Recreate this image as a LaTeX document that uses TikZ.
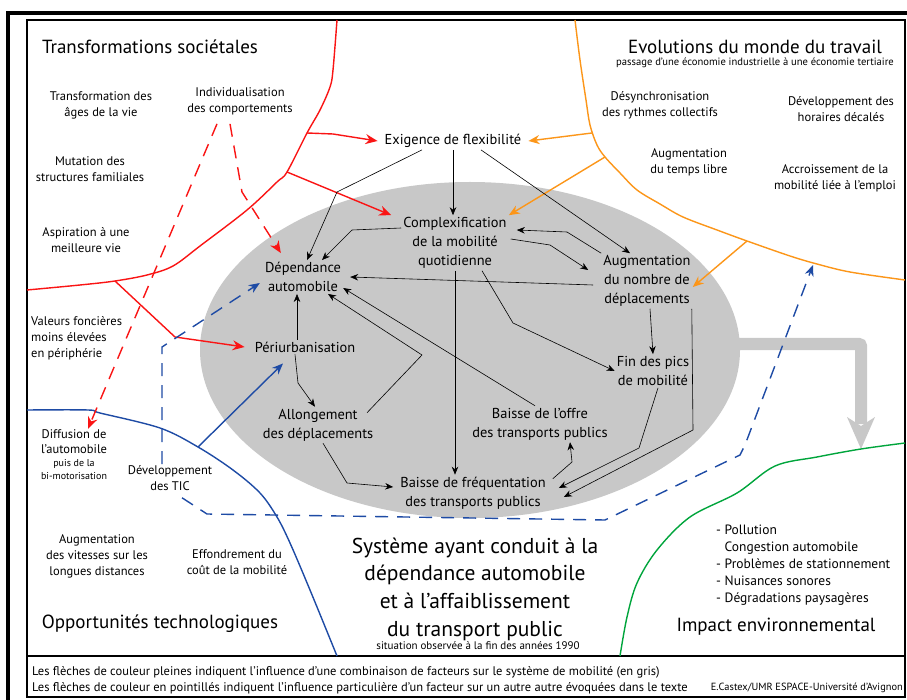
\documentclass[tikz,border=0pt]{standalone}
\usepackage{fontspec}
\setmainfont{PT Sans}
\usetikzlibrary{arrows.meta}

\definecolor{sysgray}{RGB}{200,200,200}
\definecolor{redline}{RGB}{250,20,20}
\definecolor{orangeline}{RGB}{252,150,25}
\definecolor{blueline}{RGB}{30,75,165}
\definecolor{greenline}{RGB}{0,165,60}

\tikzset{
  lbl/.style={align=center, inner sep=1pt, font=\fontsize{12.5}{16}\selectfont},
  sys/.style={align=center, inner sep=2pt, font=\fontsize{14.4}{19}\selectfont},
  area/.style={inner sep=0pt, font=\fontsize{19}{22}\selectfont},
  blk/.style={->, line width=0.6pt, >={Stealth[length=8pt,width=6.5pt]}},
  redarr/.style={->, redline, line width=1.4pt, >={Stealth[length=12pt,width=10pt]}},
  redash/.style={redarr, dash pattern=on 13pt off 9pt},
  orgarr/.style={->, orangeline, line width=1.4pt, >={Stealth[length=11pt,width=9pt]}},
  bluarr/.style={->, blueline, line width=1.4pt, >={Stealth[length=11pt,width=9pt]}},
  bludash/.style={bluarr, dash pattern=on 13pt off 9pt},
  zone/.style={line width=1.4pt, smooth, tension=0.55},
}

\begin{document}
\begin{tikzpicture}[x=1pt, y=-1pt]
\useasboundingbox (0,0) rectangle (907,700);
\fill[white] (0,0) rectangle (907,700);

\fill[sysgray] (470,350) ellipse [x radius=270, y radius=168];
\draw[sysgray, line width=12pt, rounded corners=2pt] (730,344) -- (861,344) -- (861,424);
\fill[sysgray] (847,417) -- (861,426) -- (875,417) -- (861,449) -- cycle;

\draw[line width=4pt] (8,700) -- (8,13) -- (907,13);
\draw[line width=1.4pt] (27,20) rectangle (905,697);
\draw[line width=1.2pt] (27,656) -- (905,656);

\draw[zone, redline] plot coordinates {(337,20) (333,70) (330,87) (320,110) (307,133) (287,172) (277,182) (247,210) (200,246) (173,266) (147,275) (115,281) (80,285) (27,290)};
\draw[zone, orangeline] plot coordinates {(575,20) (580,60) (586,100) (590,125) (597,145) (605,157) (620,173) (637,190) (660,204) (683,217) (717,230) (747,241) (790,256) (817,264) (850,272) (905,280)};
\draw[zone, blueline] plot coordinates {(27,410) (88,410) (100,413) (160,428) (198,447) (233,470) (260,493) (277,517) (290,543) (310,590) (337,656)};
\draw[zone, greenline] plot coordinates {(620,656) (627,617) (637,583) (657,550) (690,517) (737,493) (775,466) (817,457) (861,449) (905,443)};

\coordinate (r1) at (307,133);
\coordinate (r2) at (287,172);
\coordinate (r3) at (115,281);
\coordinate (o1) at (592,133);
\coordinate (o2) at (605,157);
\coordinate (o3) at (747,241);
\coordinate (b1) at (198,447);
\coordinate (tictarget) at (813,265);

\node[sys] (exig) at (453,141) {Exigence de flexibilité};
\node[sys] (compl) at (455,243) {Complexification\\de la mobilité\\quotidienne};
\node[sys] (dep) at (303,277) {Dépendance\\automobile};
\node[sys] (augm) at (647,281) {Augmentation\\du nombre de\\déplacements};
\node[sys] (peri) at (305,347) {Périurbanisation};
\node[sys] (fin) at (653,371) {Fin des pics\\de mobilité};
\node[sys] (allong) at (318,425) {Allongement\\des déplacements};
\node[sys] (offre) at (540,424) {Baisse de l'offre\\des transports publics};
\node[sys] (freq) at (473,493) {Baisse de fréquentation\\des transports publics};

\node[area] (soc) at (150,47) {Transformations sociétales};
\node[area] (evol) at (755,47) {Evolutions du monde du travail};
\node[inner sep=0pt, font=\fontsize{10.6}{12}\selectfont] (evolsub) at (755,63) {passage d'une économie industrielle à une économie tertiaire};
\node[area] (opp) at (160,624) {Opportunités technologiques};
\node[area] (imp) at (776,627) {Impact environnemental};
\node[align=center, inner sep=0pt, font=\fontsize{21.5}{27.7}\selectfont] (sysT) at (475,589) {Système ayant conduit à la\\dépendance automobile\\et à l'affaiblissement\\du transport public};
\node[inner sep=0pt, font=\fontsize{11}{12}\selectfont] (sysSub) at (478,646) {situation observée à la fin des années 1990};

\node[lbl] (ages) at (101,105) {Transformation des\\âges de la vie};
\node[lbl] (indiv) at (240,101) {Individualisation\\des comportements};
\node[lbl] (mut) at (90,169) {Mutation des\\structures familiales};
\node[lbl] (asp) at (86,240) {Aspiration à une\\meilleure vie};
\node[lbl, align=left, anchor=west] (val) at (30,338) {Valeurs foncières\\moins élevées\\en périphérie};
\node[lbl] (diff) at (74,455) {Diffusion de\\[-1pt]l'automobile\\[-3pt]{\fontsize{10}{11}\selectfont puis de la}\\[-3pt]{\fontsize{10}{11}\selectfont bi-motorisation}};
\node[lbl] (tic) at (170,478) {Développement\\des TIC};
\node[lbl] (vit) at (97,556) {Augmentation\\des vitesses sur les\\longues distances};
\node[lbl] (eff) at (237,562) {Effondrement du\\coût de la mobilité};
\node[lbl] (desync) at (660,105) {Désynchronisation\\des rythmes collectifs};
\node[lbl] (horaires) at (841,109) {Développement des\\horaires décalés};
\node[lbl] (temps) at (689,162) {Augmentation\\du temps libre};
\node[lbl] (accr) at (835,178) {Accroissement de la\\mobilité liée à l'emploi};
\node[align=left, anchor=north west, inner sep=0pt, font=\fontsize{13.5}{17}\selectfont] (impList) at (716,525) {- Pollution\\\hphantom{- }Congestion automobile\\- Problèmes de stationnement\\- Nuisances sonores\\- Dégradations paysagères};

\node[anchor=west, inner sep=0pt, font=\fontsize{12.5}{14}\selectfont] (leg1) at (32,672) {Les flèches de couleur pleines indiquent l'influence d'une combinaison de facteurs sur le système de mobilité (en gris)};
\node[anchor=west, inner sep=0pt, font=\fontsize{12.5}{14}\selectfont] (leg2) at (32,688) {Les flèches de couleur en pointillés indiquent l'influence particulière d'un facteur sur un autre autre évoquées dans le texte};
\node[anchor=east, inner sep=0pt, font=\fontsize{10.4}{12}\selectfont] (credit) at (903,688) {E.Castex/UMR ESPACE-Université d'Avignon};

\draw[redarr] (r1) -- (333,134) -- ([xshift=-5pt]exig.west);
\draw[redarr] (r2) -- ([xshift=-10pt]compl.north west);
\draw[redarr] (r3) -- (175,337) -- ([xshift=-8pt]peri.west);
\draw[redash] ([shift={(-10pt,-8pt)}]indiv.south) -- (242,192) -- ([shift={(18pt,7pt)}]dep.north west);
\draw[redash] ([shift={(-23pt,-8pt)}]indiv.south) -- ([xshift=14pt]diff.north);
\draw[orgarr] (o1) -- ([xshift=5pt]exig.east);
\draw[orgarr] (o2) -- (compl.north east);
\draw[orgarr] (o3) -- ([yshift=-6pt]augm.east);
\draw[bluarr] (b1) -- ([shift={(-22pt,-9pt)}]peri.south);
\draw[bludash] ([xshift=-8pt]tic.north) -- (162,347) -- ([shift={(-3pt,-6pt)}]dep.west);
\draw[bludash] ([shift={(12pt,-6pt)}]tic.south) -- (207,514) -- (605,520) -- (740,455) -- (745,445) -- (tictarget);

\draw[blk] ([xshift=-31pt]exig.south) -- (337,192) -- ([xshift=4pt]dep.north);
\draw[blk] (exig.south) -- (exig.south |- compl.north);
\draw[blk] ([xshift=28pt]exig.south) -- ([xshift=-17pt]augm.north);
\draw[blk] ([yshift=15pt]compl.west) -- (352,230) -- ([xshift=19pt]dep.north);
\draw[blk] (augm.north west) -- (567,232) -- ([shift={(8pt,13pt)}]compl.east);
\draw[blk] ([shift={(2pt,4pt)}]compl.east) -- (550,245) -- ([shift={(-13pt,11pt)}]augm.west);
\draw[blk] ([shift={(-8pt,-4pt)}]augm.west) -- ([xshift=7pt]dep.east);
\draw[blk] ([xshift=27pt]compl.south) -- (513,323) -- (fin.west);
\draw[blk] ([xshift=3pt]augm.south) -- (fin.north);
\draw[blk] (compl.south) -- (compl.south |- freq.north);
\draw[blk] ([xshift=-8pt]peri.north) -- ([xshift=-8pt]peri.north |- dep.south);
\draw[blk] ([xshift=-10pt]peri.south) -- (298,383) -- ([xshift=-3pt]allong.north);
\draw[blk] ([shift={(49pt,-6pt)}]allong.north) -- (422,355) -- ([xshift=25pt]dep.south);
\draw[blk] ([xshift=-5pt]offre.north) -- ([yshift=-11pt]dep.east);
\draw[blk] ([xshift=5pt]allong.south) -- (347,483) -- ([shift={(-5pt,6pt)}]freq.west);
\draw[blk] ([shift={(5pt,-4pt)}]freq.north east) -- (572,462) -- ([xshift=30pt]offre.south);
\draw[blk] ([xshift=5pt]fin.south) -- (639,448) -- ([shift={(11pt,5pt)}]freq.east);
\draw[blk] ([xshift=-1pt]augm.south east) -- (693,430) -- ([shift={(16pt,-4pt)}]freq.east);
\end{tikzpicture}
\end{document}
